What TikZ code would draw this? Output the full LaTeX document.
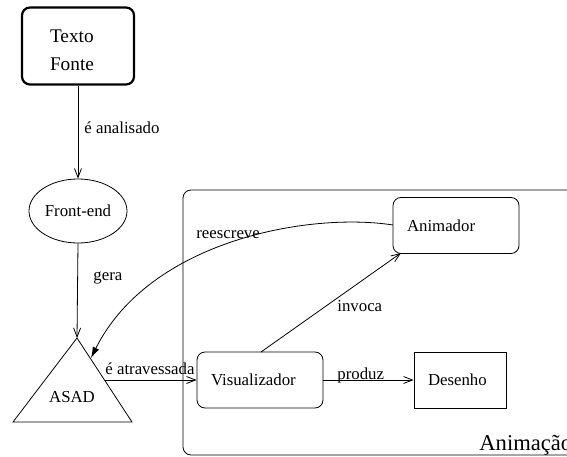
\documentclass[tikz,border=0pt]{standalone}
\usepackage{fontspec}
\setmainfont{Liberation Serif}
\usetikzlibrary{shapes.geometric,arrows.meta}
\begin{document}
\begin{tikzpicture}[x=1pt,y=-1pt, line width=0.8pt,
  lbl/.style={font=\fontsize{16.8}{20}\selectfont, inner sep=0pt},
  openarr/.style={-{Straight Barb[length=9pt,width=7pt]}},
  fillarr/.style={-{Latex[length=11pt,width=7pt]}},
  rbox/.style={draw, rounded corners=8pt, minimum height=56pt, inner xsep=14pt,
    align=left, font=\fontsize{16.8}{20}\selectfont},
  sbox/.style={draw, minimum height=56pt, inner xsep=14pt,
    align=left, font=\fontsize{16.8}{20}\selectfont}]
\useasboundingbox (0,0) rectangle (567,457);

% outer group box
\draw[rounded corners=8pt] (183,190) rectangle (600,455);
\node[anchor=base west, inner sep=0pt, font=\fontsize{22.6}{26}\selectfont] (animlbl) at (479,450) {Animação};

% Texto Fonte
\node[draw, line width=2.2pt, rounded corners=8pt, minimum width=111pt, minimum height=77pt,
  text width=56pt, inner xsep=28pt, align=left, font=\fontsize{19.3}{28}\selectfont]
  (texto) at (78,46) {\rule{0pt}{22pt}Texto\\Fonte};

% Front-end
\node[draw, ellipse, minimum width=98pt, minimum height=64pt, inner sep=0pt,
  font=\fontsize{16.8}{20}\selectfont] (fe) at (78,211) {Front-end};

% ASAD triangle
\coordinate (apex) at (77,338);
\coordinate (bl) at (13,422);
\coordinate (br) at (132,422);
\draw (apex) -- (bl) -- (br) -- cycle;
\node[lbl] (asad) at (72,397) {ASAD};
\coordinate (asadR) at (105,380);
\coordinate (asadTip) at (91,358);

% Boxes
\node[rbox, text width=98pt] (vis) at (260,380) {Visualizador};
\node[sbox, text width=64pt] (des) at (460,380) {Desenho};
\node[rbox, text width=98pt] (anim) at (456,225.5) {Animador};

% Connectors
\draw[openarr] (texto.south) -- (fe.north);
\node[lbl, anchor=west] (l1) at (84,128) {é analisado};

\draw[openarr] (fe.south) -- (apex);
\node[lbl, anchor=west] (l2) at (93,278) {gera};

\draw[openarr] (asadR) -- (vis.west |- asadR);
\node[lbl, anchor=west] (l3) at (105,369) {é atravessada};

\draw[openarr] (vis.east) -- (des.west);
\node[lbl, anchor=west] (l4) at (337,375) {produz};

\coordinate (visTop) at (261,352);
\coordinate (animBL) at (401,253);
\draw[openarr] (visTop) -- (animBL);
\node[lbl, anchor=west] (l5) at (337,306) {invoca};

\coordinate (animL) at (393,225);
\draw[fillarr] (animL) .. controls (310,212) and (150,240) .. (asadTip);
\node[lbl, anchor=west] (l6) at (196,235) {reescreve};
\end{tikzpicture}
\end{document}
